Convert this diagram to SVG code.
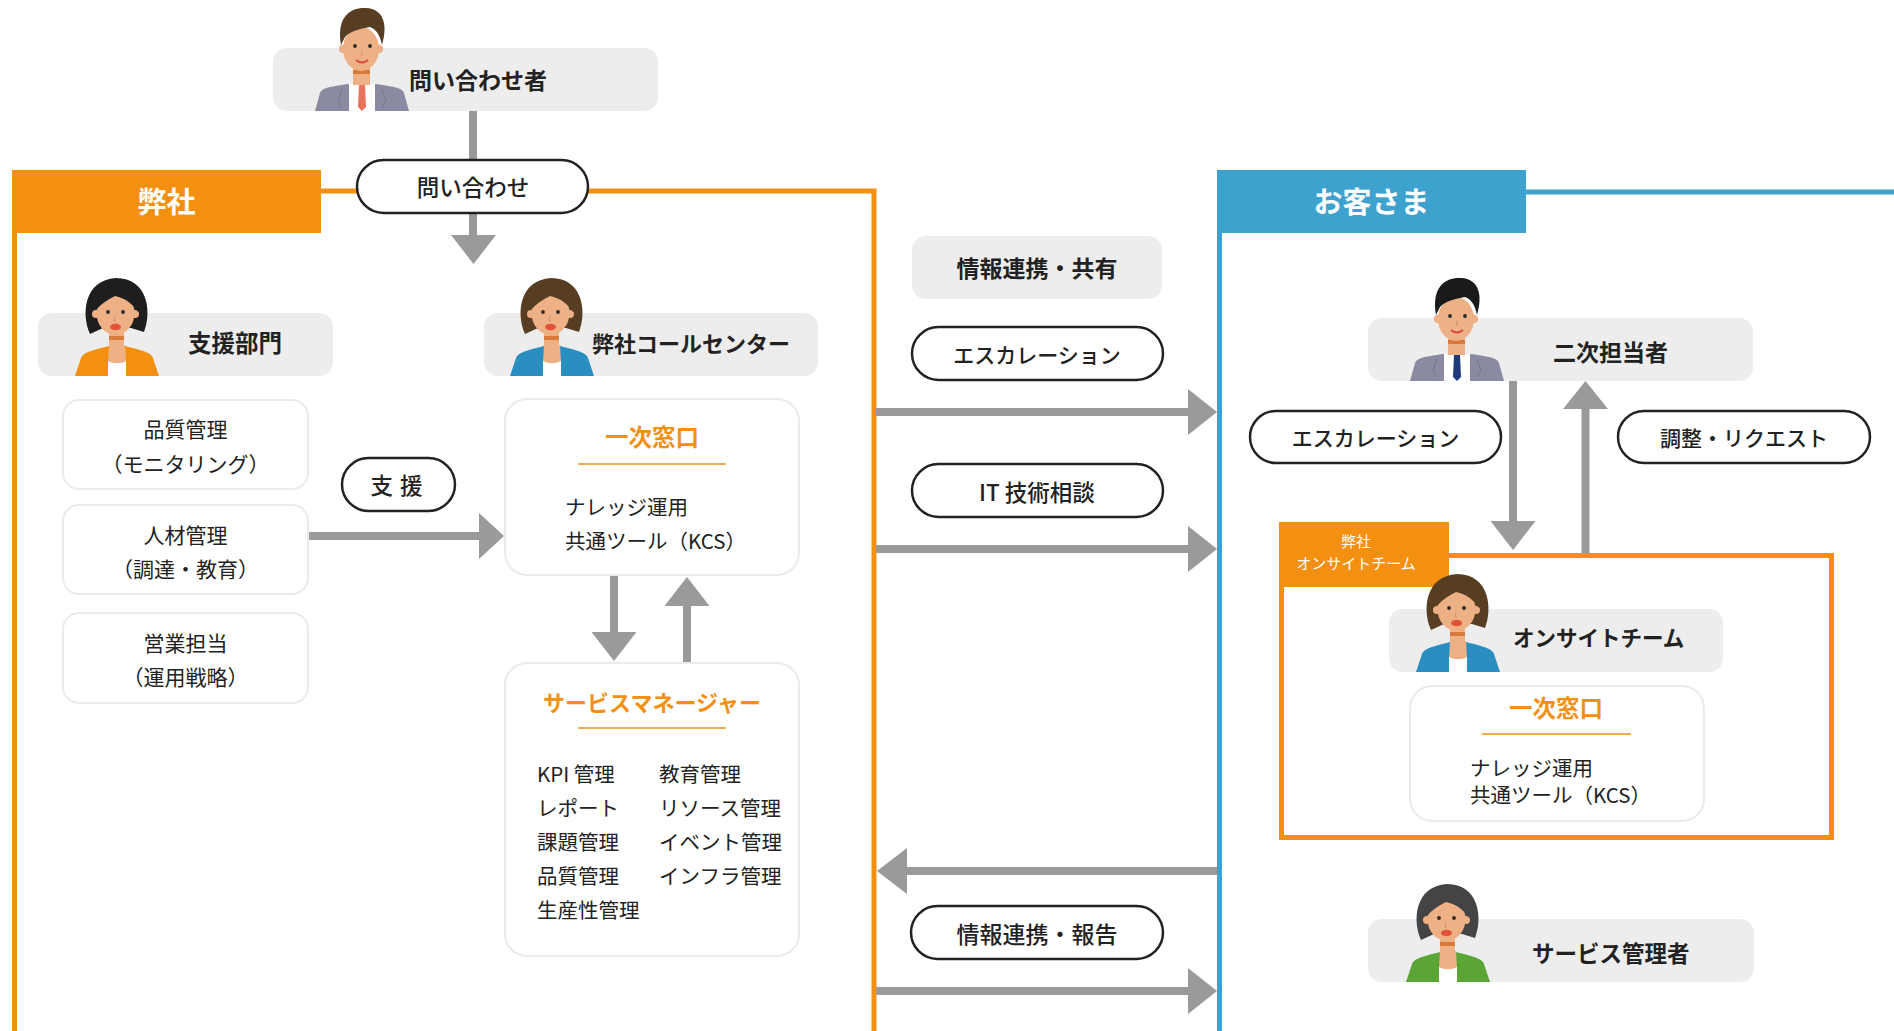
<svg xmlns="http://www.w3.org/2000/svg" xmlns:xlink="http://www.w3.org/1999/xlink" width="1894" height="1031" viewBox="0 0 1894 1031">
  <style>
    text { font-family: "Noto Sans CJK JP", "Noto Sans", sans-serif; fill: #222; }
    .b { font-weight: 700; }
    .m { font-weight: 500; }
    .r { font-weight: 400; }
    .c { text-anchor: middle; }
    .head { fill: #fff; font-weight: 700; font-size: 29px; }
    .org { fill: #F39012; font-weight: 700; }
    .wht { fill: #fff; }
    .tag { fill: #EDEDED; }
    .pill { fill: #fff; stroke: #222; stroke-width: 2.5; }
    .card { fill: #fff; stroke: #EBEBEB; stroke-width: 2; }
    .frameO { fill: none; stroke: #F39012; stroke-width: 5; }
    .frameB { fill: none; stroke: #3DA2CE; stroke-width: 5; }
    .rule { stroke: #F39012; stroke-width: 1.6; }
    .shaft { stroke: #9A9A9A; stroke-width: 8; fill: none; }
    .tip { fill: #9A9A9A; }
    .skin { fill: #EEB085; }
  </style>
  <defs>
    <!-- cartoon figures; origin = bottom centre -->
    <g id="woman">
      <path d="M-27,-42 C-36,-62 -33,-96 -1,-98 C31,-98 35,-64 27,-44 L14,-48 L-14,-48 Z" style="fill:var(--hair)"/>
      <path d="M-42,0 L-36,-18 C-34,-23 -28,-25 -8,-30 L8,-30 C28,-25 34,-23 36,-18 L42,0 Z" style="fill:var(--jacket)"/>
      <path d="M-8,-31 L8,-31 L9,-14 C4,-11 -4,-11 -9,-14 Z" class="skin"/>
      <path d="M-9,0 L-9,-15 C-4,-12 4,-12 9,-15 L9,0 Z" fill="#fff"/>
      <rect x="-8" y="-44" width="15" height="14" class="skin"/>
      <rect x="-8" y="-40" width="15" height="4" fill="#D9793A"/>
      <circle cx="-21" cy="-62" r="4" class="skin"/>
      <circle cx="18" cy="-62" r="4" class="skin"/>
      <ellipse cx="-1.5" cy="-63" rx="19" ry="22" class="skin"/>
      <path d="M-21,-66 C-22,-88 -2,-96 12,-90 C22,-85 24,-74 21,-64 C16,-72 8,-78 -2,-80 C-10,-76 -16,-72 -21,-66 Z" style="fill:var(--hair)"/>
      <circle cx="-9" cy="-64" r="1.9" fill="#2a2a2a"/>
      <circle cx="6" cy="-64" r="1.9" fill="#2a2a2a"/>
      <path d="M-2,-60 L-3,-55 L-1,-55" stroke="#D08A60" stroke-width="0.8" fill="none"/>
      <ellipse cx="-1.5" cy="-49" rx="5.5" ry="3.2" fill="#E0523A"/>
    </g>
    <g id="man">
      <path d="M-47,0 L-42,-18 C-40,-23 -34,-24 -14,-27 L14,-27 C34,-24 40,-23 42,-18 L47,0 Z" style="fill:var(--suit)"/>
      <path d="M-13,-27 L13,-27 L13,0 L-13,0 Z" fill="#fff"/>
      <path d="M-3,-26 L3,-26 L4,-4 L0,0 L-4,-4 Z" style="fill:var(--tie)"/>
      <path d="M-20,-22 L-24,-10 L-20,-4 M20,-22 L24,-10 L20,-4" stroke="#6E6F86" stroke-width="0.8" fill="none"/>
      <rect x="-9" y="-44" width="17" height="18" class="skin"/>
      <rect x="-9" y="-41" width="17" height="4" fill="#D9793A"/>
      <circle cx="-19" cy="-62" r="4.2" class="skin"/>
      <circle cx="17" cy="-62" r="4.2" class="skin"/>
      <ellipse cx="-1" cy="-62" rx="18" ry="22" class="skin"/>
      <path d="M-21,-66 C-26,-96 -10,-104 4,-103 C22,-102 26,-86 20,-66 C18,-76 14,-82 8,-84 C-2,-82 -12,-80 -17,-74 Z" style="fill:var(--hair)"/>
      <circle cx="-7" cy="-65" r="1.9" fill="#2a2a2a"/>
      <circle cx="8" cy="-65" r="1.9" fill="#2a2a2a"/>
      <path d="M0,-61 L-1,-56 L1,-56" stroke="#D08A60" stroke-width="0.8" fill="none"/>
      <path d="M-6,-51 Q0,-46 6,-51" stroke="#D9473A" stroke-width="1.8" fill="none"/>
    </g>
  </defs>

  <!-- section frames -->
  <g id="frame-ours">
    <path class="frameO" d="M14.5,233 V1031"/>
    <path class="frameO" d="M321,191 H874 V1031"/>
    <rect x="12" y="170" width="309" height="63" fill="#F39012"/>
    <text class="head c" x="166.5" y="213">弊社</text>
  </g>
  <g id="frame-customer">
    <path class="frameB" d="M1219.5,233 V1031"/>
    <path class="frameB" d="M1526,192 H1894"/>
    <rect x="1217" y="170" width="309" height="63" fill="#3DA2CE"/>
    <text class="head c" x="1371.5" y="213">お客さま</text>
  </g>

  <!-- connectors -->
  <g id="connectors">
    <path class="shaft" d="M473,111 V236"/>
    <polygon class="tip" points="451,235 496,235 473.5,264"/>
    <path class="shaft" d="M309,536 H480"/>
    <polygon class="tip" points="479,513 479,559 504,536"/>
    <path class="shaft" d="M614,575 V633"/>
    <polygon class="tip" points="591.5,632 636.5,632 614,661"/>
    <path class="shaft" d="M687,663 V605"/>
    <polygon class="tip" points="664.5,606 709.5,606 687,577"/>
    <path class="shaft" d="M876,412 H1189"/>
    <polygon class="tip" points="1188,389 1188,435 1217,412"/>
    <path class="shaft" d="M876,549 H1189"/>
    <polygon class="tip" points="1188,526 1188,572 1217,549"/>
    <path class="shaft" d="M1217,871 H906"/>
    <polygon class="tip" points="907,848 907,894 877,871"/>
    <path class="shaft" d="M876,991 H1189"/>
    <polygon class="tip" points="1188,968 1188,1014 1217,991"/>
    <path class="shaft" d="M1513,381 V522"/>
    <polygon class="tip" points="1490.5,521 1535.5,521 1513,550"/>
    <path class="shaft" d="M1585.5,553 V408"/>
    <polygon class="tip" points="1563,409 1608,409 1585.5,381"/>
  </g>

  <!-- connector labels -->
  <g id="label-inquiry">
    <rect class="pill" x="357" y="160" width="231" height="53" rx="26.5"/>
    <text class="m c" x="473" y="196" font-size="22.5">問い合わせ</text>
  </g>
  <g id="label-support">
    <rect class="pill" x="342" y="458" width="113" height="53" rx="26.5"/>
    <text class="m c" x="400" y="494" font-size="22.5" letter-spacing="7">支援</text>
  </g>
  <g id="label-share">
    <rect class="tag" x="912" y="236" width="250" height="63" rx="14"/>
    <text class="b c" x="1037" y="277" font-size="23">情報連携・共有</text>
  </g>
  <g id="label-escalation">
    <rect class="pill" x="912" y="327" width="251" height="53" rx="26.5"/>
    <text class="m c" x="1037" y="363" font-size="21">エスカレーション</text>
  </g>
  <g id="label-it">
    <rect class="pill" x="912" y="464" width="251" height="53" rx="26.5"/>
    <text class="m c" x="1037" y="501" font-size="22.5">IT 技術相談</text>
  </g>
  <g id="label-report">
    <rect class="pill" x="911" y="906" width="252" height="53" rx="26.5"/>
    <text class="m c" x="1037" y="943" font-size="23">情報連携・報告</text>
  </g>
  <g id="label-escalation-2">
    <rect class="pill" x="1250" y="411" width="251" height="52" rx="26"/>
    <text class="m c" x="1375.5" y="446" font-size="21">エスカレーション</text>
  </g>
  <g id="label-request">
    <rect class="pill" x="1618" y="411" width="252" height="52" rx="26"/>
    <text class="m c" x="1744" y="446" font-size="21">調整・リクエスト</text>
  </g>

  <!-- nodes -->
  <g id="inquirer">
    <rect class="tag" x="273" y="48" width="385" height="63" rx="14"/>
    <use href="#man" transform="translate(362,111)" style="--hair:#573E22;--suit:#8A8BA3;--tie:#E8735A"/>
    <text class="b" x="409" y="89" font-size="23">問い合わせ者</text>
  </g>

  <g id="support-dept">
    <rect class="tag" x="38" y="313" width="295" height="63" rx="14"/>
    <use href="#woman" transform="translate(117,376)" style="--hair:#1E1E1E;--jacket:#F39012"/>
    <text class="b" x="188" y="352" font-size="23.5">支援部門</text>
  </g>
  <g id="quality">
    <rect class="card" x="63" y="400" width="245" height="89" rx="16"/>
    <text class="r c" x="185.5" y="437" font-size="21">品質管理</text>
    <text class="r c" x="185.5" y="472" font-size="21">（モニタリング）</text>
  </g>
  <g id="hr">
    <rect class="card" x="63" y="505" width="245" height="89" rx="16"/>
    <text class="r c" x="185.5" y="543" font-size="21">人材管理</text>
    <text class="r c" x="185.5" y="577" font-size="21">（調達・教育）</text>
  </g>
  <g id="sales">
    <rect class="card" x="63" y="613" width="245" height="90" rx="16"/>
    <text class="r c" x="185.5" y="651" font-size="21">営業担当</text>
    <text class="r c" x="185.5" y="685" font-size="21">（運用戦略）</text>
  </g>

  <g id="call-center">
    <rect class="tag" x="484" y="313" width="334" height="63" rx="14"/>
    <use href="#woman" transform="translate(552,376)" style="--hair:#573E22;--jacket:#2A8FC0"/>
    <text class="b" x="592" y="352" font-size="22">弊社コールセンター</text>
  </g>
  <g id="first-desk">
    <rect class="card" x="505" y="399" width="294" height="176" rx="22"/>
    <text class="org c" x="652" y="446" font-size="23.5">一次窓口</text>
    <line class="rule" x1="578" y1="464" x2="726" y2="464"/>
    <text class="r" x="565" y="515" font-size="20.5">ナレッジ運用</text>
    <text class="r" x="565" y="549" font-size="20.5">共通ツール（KCS）</text>
  </g>
  <g id="service-manager">
    <rect class="card" x="505" y="663" width="294" height="293" rx="22"/>
    <text class="org c" x="652" y="711" font-size="22">サービスマネージャー</text>
    <line class="rule" x1="578" y1="728" x2="726" y2="728"/>
    <text class="r" x="537" y="782" font-size="20.5">KPI 管理</text>
    <text class="r" x="537" y="816" font-size="20.5">レポート</text>
    <text class="r" x="537" y="850" font-size="20.5">課題管理</text>
    <text class="r" x="537" y="884" font-size="20.5">品質管理</text>
    <text class="r" x="537" y="918" font-size="20.5">生産性管理</text>
    <text class="r" x="659" y="782" font-size="20.5">教育管理</text>
    <text class="r" x="659" y="816" font-size="20.5">リソース管理</text>
    <text class="r" x="659" y="850" font-size="20.5">イベント管理</text>
    <text class="r" x="659" y="884" font-size="20.5">インフラ管理</text>
  </g>

  <g id="second-line">
    <rect class="tag" x="1368" y="318" width="385" height="63" rx="14"/>
    <use href="#man" transform="translate(1457,381)" style="--hair:#1A1A1A;--suit:#8A8BA3;--tie:#1F3A7A"/>
    <text class="b" x="1553" y="361" font-size="23">二次担当者</text>
  </g>

  <g id="onsite-team">
    <rect class="frameO" x="1281.5" y="555.5" width="550" height="282"/>
    <rect x="1279" y="522" width="170" height="65" fill="#F39012"/>
    <text class="r c wht" x="1356" y="547" font-size="15">弊社</text>
    <text class="r c wht" x="1356" y="569" font-size="15">オンサイトチーム</text>
    <rect class="tag" x="1389" y="609" width="334" height="63" rx="14"/>
    <use href="#woman" transform="translate(1458,672)" style="--hair:#573E22;--jacket:#2A8FC0"/>
    <text class="b" x="1513" y="646" font-size="21.5">オンサイトチーム</text>
    <rect class="card" x="1410" y="686" width="294" height="135" rx="22"/>
    <text class="org c" x="1556" y="717" font-size="23.5">一次窓口</text>
    <line class="rule" x1="1482" y1="734" x2="1631" y2="734"/>
    <text class="r" x="1470" y="776" font-size="20.5">ナレッジ運用</text>
    <text class="r" x="1470" y="803" font-size="20.5">共通ツール（KCS）</text>
  </g>

  <g id="service-admin">
    <rect class="tag" x="1368" y="919" width="386" height="63" rx="14"/>
    <use href="#woman" transform="translate(1448,982)" style="--hair:#444444;--jacket:#5AA536"/>
    <text class="b" x="1532" y="962" font-size="22.5">サービス管理者</text>
  </g>
</svg>
